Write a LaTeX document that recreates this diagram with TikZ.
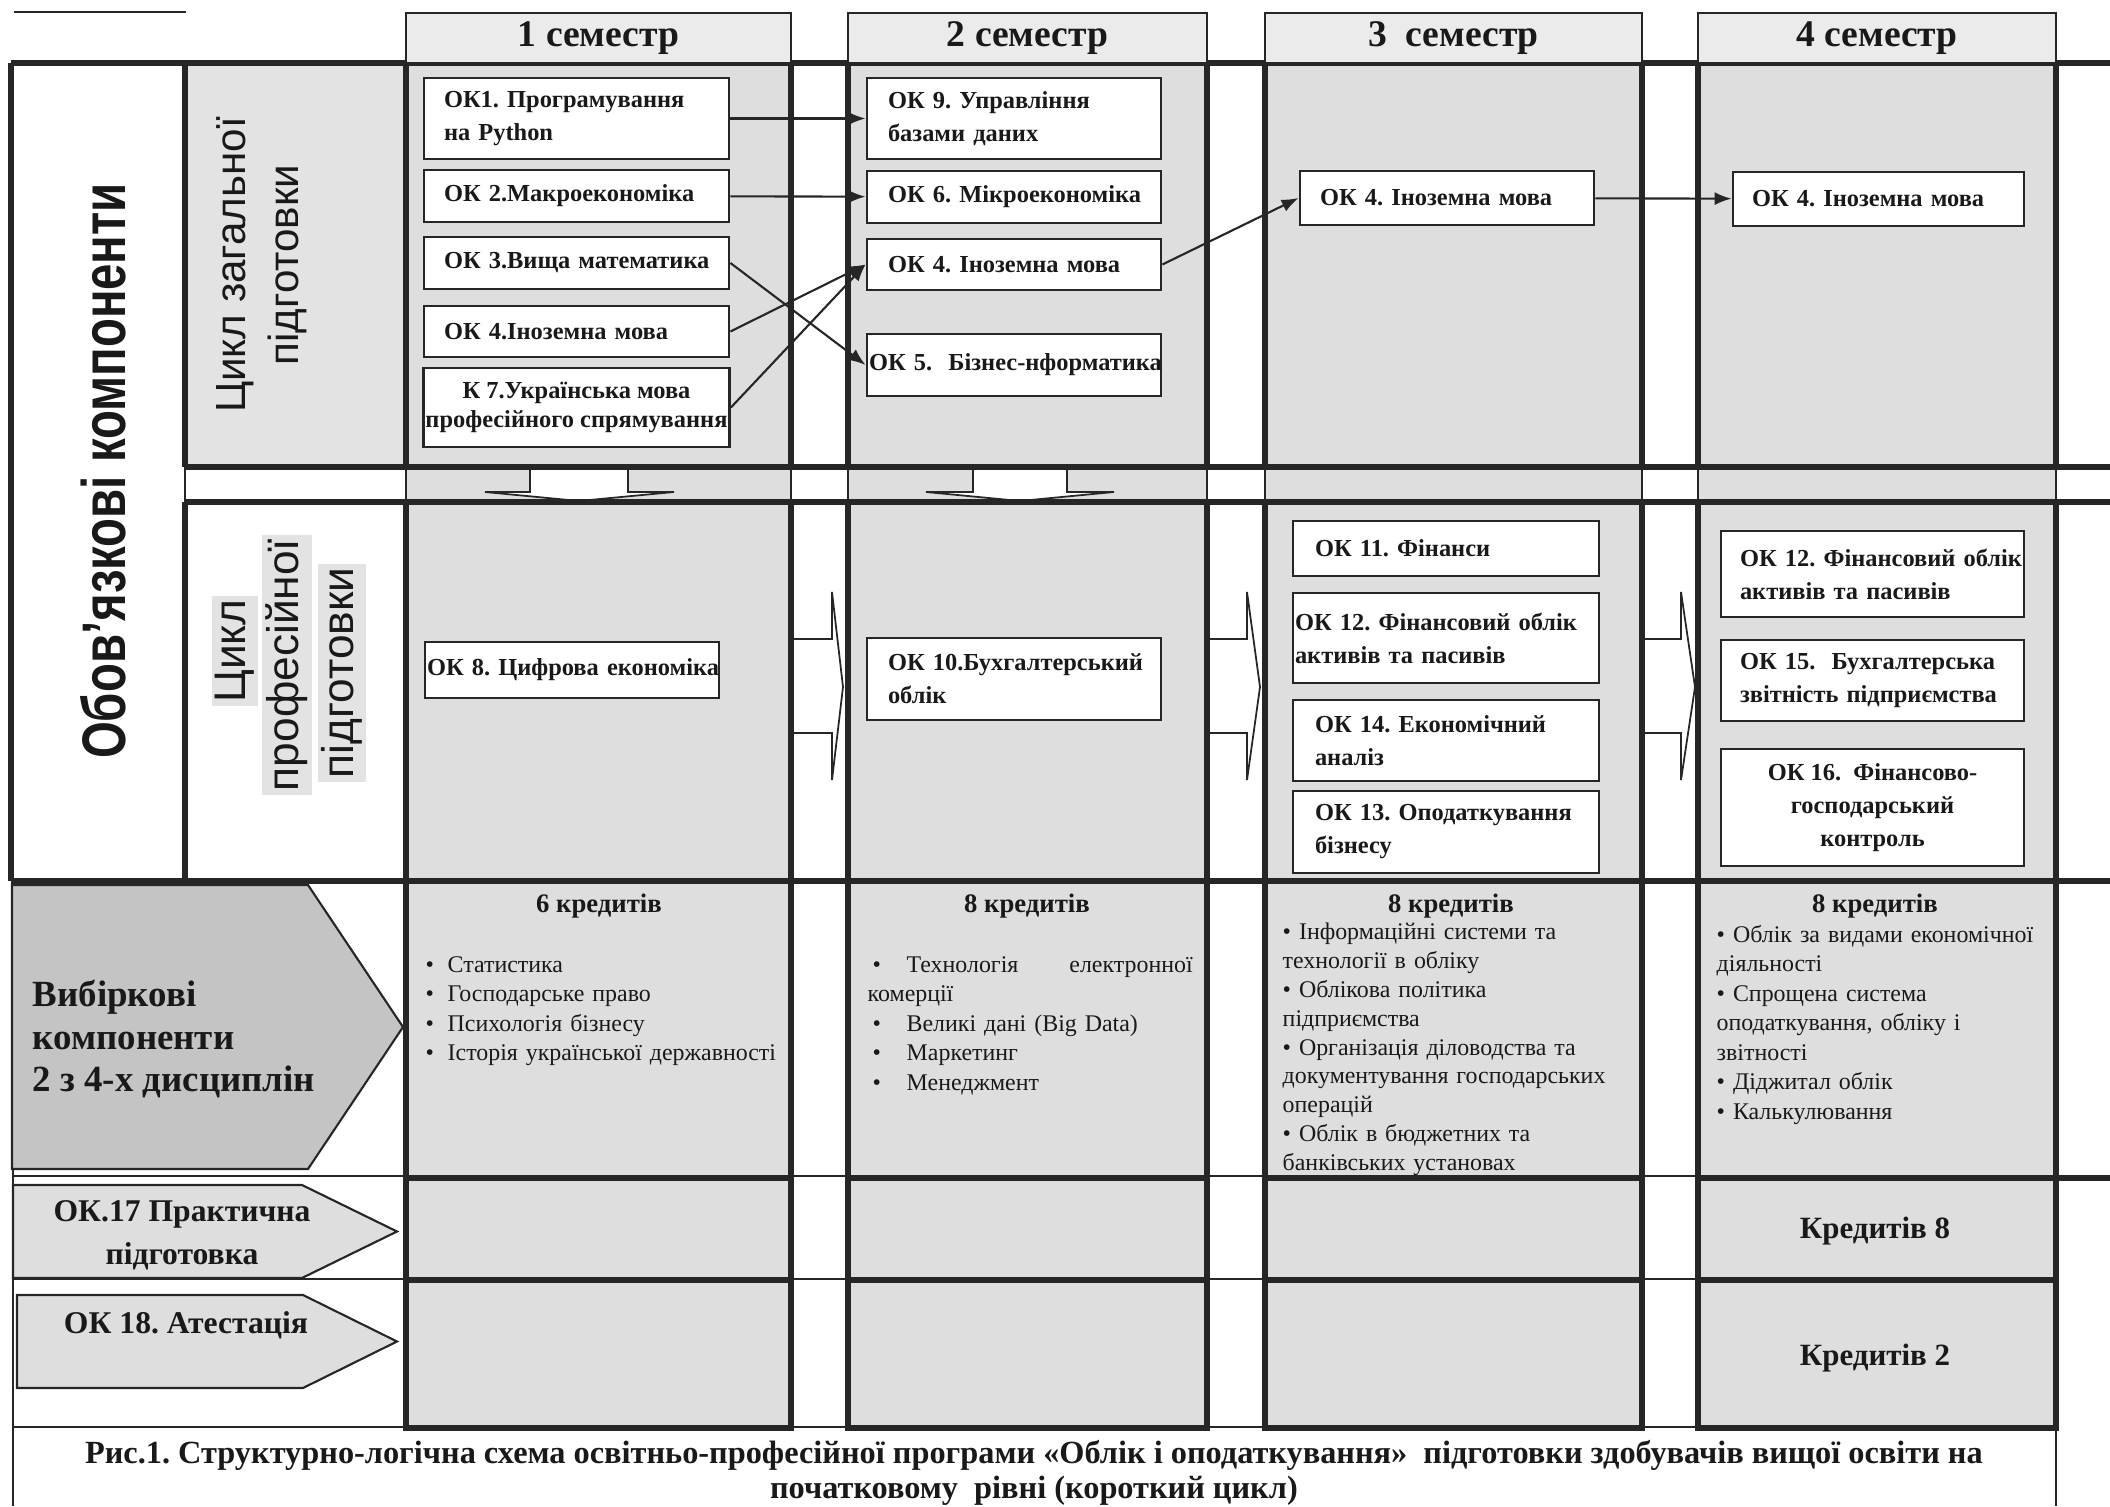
\documentclass[tikz,border=0pt]{standalone}
\usepackage{fontspec}
\usepackage{graphicx}
\setmainfont{Liberation Serif}
\setsansfont{Liberation Sans}
\frenchspacing
\usetikzlibrary{arrows.meta}
\tikzset{>={Latex[length=1.7mm,width=1.3mm]}}

\definecolor{trait}{gray}{0.15}
\definecolor{fondcol}{gray}{0.87}
\definecolor{fondtete}{gray}{0.92}
\definecolor{fondcycle}{gray}{0.89}
\definecolor{fondvib}{gray}{0.77}
\definecolor{fondok}{gray}{0.87}

\tikzset{
  okbox/.style={draw=trait, fill=white, line width=0.8pt, inner xsep=0.02cm, inner ysep=0pt,
    align=left, font=\fontsize{6.95}{9.4}\selectfont\bfseries},
  okpad/.style={execute at begin node={\leftskip=#1}},
  semhead/.style={draw=trait, fill=fondtete, line width=0.5pt, minimum height=0.5cm,
    inner sep=0pt, font=\fontsize{10.7}{12}\selectfont\bfseries},
  conn/.style={->, draw=trait, line width=0.6pt},
  credits/.style={inner sep=0pt, font=\fontsize{7.6}{9}\selectfont\bfseries},
  vlist/.style={anchor=north west, inner sep=0pt, align=left, font=\fontsize{6.8}{8.4}\selectfont},
  cyclelab/.style={rotate=90, align=center, inner sep=1pt, font=\sffamily\fontsize{12}{15}\selectfont},
  pentlab/.style={inner sep=0pt, align=center, font=\fontsize{9}{12.2}\selectfont\bfseries},
  blockarrow/.style={draw=trait, fill=white, line width=0.5pt},
}

\begin{document}
\begin{tikzpicture}[text=black!90]

% Cadre de la figure (origine en bas a gauche)
% Figure frame (origin at the lower left corner)
\useasboundingbox (0,0) rectangle (21.10,15.06);

% Fonds gris des colonnes
% Grey backgrounds of the columns
\fill [fondcol] (4.06,0.78) rectangle (7.91,14.43);
\fill [fondcol] (8.48,0.78) rectangle (12.07,14.43);
\fill [fondcol] (12.65,0.78) rectangle (16.42,14.43);
\fill [fondcol] (16.98,0.78) rectangle (20.56,14.43);
\fill [fondcycle] (1.85,10.39) rectangle (4.06,14.43);

% Traits fins
% Thin lines
\draw [trait, line width=0.6pt] (0.14,14.94) -- (1.86,14.94);
\draw [trait, line width=0.6pt] (0.13,6.25) -- (0.13,0);
\draw [trait, line width=0.6pt] (20.56,0.78) -- (20.56,0);
\draw [trait, line width=0.6pt] (0.13,3.30) -- (21.10,3.30);
\draw [trait, line width=0.6pt] (0.13,2.27) -- (20.56,2.27);
\draw [trait, line width=0.6pt] (0.13,0.79) -- (20.56,0.79);
\draw [trait, line width=0.6pt] (1.85,10.39) -- (1.85,10.04) (4.06,10.39) -- (4.06,10.04) (7.91,10.39) -- (7.91,10.04)
  (8.48,10.39) -- (8.48,10.04) (12.07,10.39) -- (12.07,10.04) (12.65,10.39) -- (12.65,10.04)
  (16.42,10.39) -- (16.42,10.04) (16.98,10.39) -- (16.98,10.04) (20.56,10.39) -- (20.56,10.04);

% Fleches larges entre les cycles et les semestres
% Block arrows between cycles and semesters
\filldraw [blockarrow] (5.30,10.39) -- (5.30,10.14) -- (4.85,10.14) -- (5.79,10.05) -- (6.74,10.14) -- (6.28,10.14) -- (6.28,10.39);
\filldraw [blockarrow] (9.73,10.39) -- (9.73,10.14) -- (9.26,10.14) -- (10.20,10.05) -- (11.14,10.14) -- (10.67,10.14) -- (10.67,10.39);
\filldraw [blockarrow] (7.91,8.67) -- (8.32,8.67) -- (8.32,9.14) -- (8.43,8.19) -- (8.32,7.26) -- (8.32,7.73) -- (7.91,7.73);
\filldraw [blockarrow] (12.07,8.67) -- (12.47,8.67) -- (12.47,9.14) -- (12.60,8.19) -- (12.47,7.26) -- (12.47,7.73) -- (12.07,7.73);
\filldraw [blockarrow] (16.42,8.67) -- (16.81,8.67) -- (16.81,9.14) -- (16.95,8.19) -- (16.81,7.26) -- (16.81,7.73) -- (16.42,7.73);

% Traits epais
% Thick lines
\draw [trait, line width=1.5pt] (0.11,14.43) -- (21.10,14.43);
\draw [trait, line width=1.5pt] (1.85,10.39) -- (21.10,10.39);
\draw [trait, line width=1.5pt] (1.85,10.04) -- (21.10,10.04);
\draw [trait, line width=1.5pt] (0.11,6.25) -- (21.10,6.25);
\draw [trait, line width=1.5pt] (20.56,3.28) -- (21.10,3.28);
\draw [trait, line width=1.5pt] (0.11,14.43) -- (0.11,6.25) (1.85,14.43) -- (1.85,10.39) (1.85,10.04) -- (1.85,6.25);
\draw [trait, line width=1.5pt] (4.06,14.43) rectangle (7.91,10.39) (4.06,10.04) rectangle (7.91,6.25)
  (4.06,6.25) rectangle (7.91,3.28) (4.06,3.28) rectangle (7.91,2.26) (4.06,2.26) rectangle (7.91,0.78);
\draw [trait, line width=1.5pt] (8.48,14.43) rectangle (12.07,10.39) (8.48,10.04) rectangle (12.07,6.25)
  (8.48,6.25) rectangle (12.07,3.28) (8.48,3.28) rectangle (12.07,2.26) (8.48,2.26) rectangle (12.07,0.78);
\draw [trait, line width=1.5pt] (12.65,14.43) rectangle (16.42,10.39) (12.65,10.04) rectangle (16.42,6.25)
  (12.65,6.25) rectangle (16.42,3.28) (12.65,3.28) rectangle (16.42,2.26) (12.65,2.26) rectangle (16.42,0.78);
\draw [trait, line width=1.5pt] (16.98,14.43) rectangle (20.56,10.39) (16.98,10.04) rectangle (20.56,6.25)
  (16.98,6.25) rectangle (20.56,3.28) (16.98,3.28) rectangle (20.56,2.26) (16.98,2.26) rectangle (20.56,0.78);

% Fleches pentagonales a gauche
% Pentagon arrows on the left
\filldraw [draw=trait, line width=0.6pt, fill=fondvib] (0.12,6.21) -- (3.08,6.21) -- (4.03,4.79) -- (3.08,3.37) -- (0.12,3.37) -- cycle;
\filldraw [draw=trait, line width=0.6pt, fill=fondok] (0.13,3.21) -- (3.02,3.21) -- (3.97,2.745) -- (3.02,2.28) -- (0.13,2.28) -- cycle;
\filldraw [draw=trait, line width=0.6pt, fill=fondok] (0.17,2.11) -- (3.03,2.11) -- (3.97,1.645) -- (3.03,1.18) -- (0.17,1.18) -- cycle;

% En-tetes des semestres
% Semester headers
\node [semhead, minimum width=3.85cm] (sem1) at (5.985,14.68) {1 семестр};
\node [semhead, minimum width=3.59cm] (sem2) at (10.275,14.68) {2 семестр};
\node [semhead, minimum width=3.77cm] (sem3) at (14.535,14.68) {3~~семестр};
\node [semhead, minimum width=3.58cm] (sem4) at (18.77,14.68) {4 семестр};

% Etiquettes de gauche
% Left labels
\node [rotate=90, inner sep=0pt, font=\sffamily\bfseries\fontsize{17.5}{20}\selectfont] (oblig) at (1.03,10.35) {\scalebox{0.77}[1]{Обов’язкові компоненти}};
\node [cyclelab] (cyclgen) at (2.62,12.41) {Цикл загальної\\підготовки};
\node [cyclelab, fill=fondcycle, font=\sffamily\fontsize{12.6}{15}\selectfont] (cyclprof1) at (2.35,8.55) {Цикл};
\node [cyclelab, fill=fondcycle, font=\sffamily\fontsize{12.6}{15}\selectfont] (cyclprof2) at (2.87,8.41) {професійної};
\node [cyclelab, fill=fondcycle, font=\sffamily\fontsize{12.6}{15}\selectfont] (cyclprof3) at (3.42,8.33) {підготовки};
\node [anchor=west, inner sep=0pt, align=left, font=\fontsize{10.5}{12.2}\selectfont\bfseries] (vibir) at (0.32,4.67) {Вибіркові\\компоненти\\2 з 4-х дисциплін};
\node [pentlab] (prakt) at (1.82,2.705) {ОК.17 Практична\\підготовка};
\node [pentlab] (atest) at (1.86,1.81) {ОК 18. Атестація};

% Disciplines du cycle general
% General training courses
\node [okbox, okpad=0.18cm, text width=3.01cm, minimum height=0.81cm] (ok1) at (5.765,13.875) {ОК1. Програмування\\на Python};
\node [okbox, okpad=0.18cm, text width=3.01cm, minimum height=0.52cm] (ok2) at (5.765,13.10) {ОК 2.Макроекономіка};
\node [okbox, okpad=0.18cm, text width=3.01cm, minimum height=0.52cm] (ok3) at (5.765,12.43) {ОК 3.Вища математика};
\node [okbox, okpad=0.18cm, text width=3.01cm, minimum height=0.51cm] (ok4a) at (5.765,11.745) {ОК 4.Іноземна мова};
\node [okbox, align=center, minimum width=3.05cm, minimum height=0.79cm, font=\fontsize{6.95}{8.4}\selectfont\bfseries] (k7) at (5.765,10.985) {К 7.Українська мова\\професійного спрямування};
\node [okbox, okpad=0.19cm, text width=2.90cm, minimum height=0.81cm] (ok9) at (10.14,13.875) {ОК 9. Управління\\базами даних};
\node [okbox, okpad=0.19cm, text width=2.90cm, minimum height=0.52cm] (ok6) at (10.14,13.09) {ОК 6. Мікроекономіка};
\node [okbox, okpad=0.19cm, text width=2.90cm, minimum height=0.51cm] (ok4b) at (10.14,12.415) {ОК 4. Іноземна мова};
\node [okbox, text width=2.90cm, minimum height=0.62cm] (ok5) at (10.14,11.41) {\mbox{ОК 5.\ \ Бізнес-нформатика}};
\node [okbox, okpad=0.18cm, text width=2.90cm, minimum height=0.54cm] (ok4c) at (14.47,13.08) {ОК 4. Іноземна мова};
\node [okbox, okpad=0.17cm, text width=2.87cm, minimum height=0.54cm] (ok4d) at (18.785,13.07) {ОК 4. Іноземна мова};

% Disciplines du cycle professionnel
% Professional training courses
\node [okbox, text width=2.90cm, minimum height=0.56cm] (ok8) at (5.72,8.36) {\mbox{ОК 8. Цифрова економіка}};
\node [okbox, okpad=0.19cm, text width=2.90cm, minimum height=0.82cm] (ok10) at (10.14,8.27) {ОК 10.Бухгалтерський\\облік};
\node [okbox, okpad=0.20cm, text width=3.02cm, minimum height=0.55cm] (ok11) at (14.46,9.575) {ОК 11. Фінанси};
\node [okbox, text width=3.02cm, minimum height=0.90cm] (ok12a) at (14.46,8.68) {ОК 12. Фінансовий облік\\активів та пасивів};
\node [okbox, okpad=0.20cm, text width=3.02cm, minimum height=0.81cm] (ok14) at (14.46,7.655) {ОК 14. Економічний\\аналіз};
\node [okbox, okpad=0.20cm, text width=3.02cm, minimum height=0.82cm] (ok13) at (14.46,6.74) {ОК 13. Оподаткування\\бізнесу};
\node [okbox, okpad=0.17cm, text width=2.99cm, minimum height=0.86cm] (ok12b) at (18.725,9.32) {\mbox{ОК 12. Фінансовий облік}\\активів та пасивів};
\node [okbox, okpad=0.17cm, text width=2.99cm, minimum height=0.81cm] (ok15) at (18.725,8.255) {ОК 15.\ \ Бухгалтерська\\звітність підприємства};
\node [okbox, align=center, minimum width=3.03cm, minimum height=1.17cm] (ok16) at (18.725,6.985) {ОК 16.\ \ Фінансово-\\господарський\\контроль};

% Liaisons entre les disciplines
% Links between the courses
\draw [conn] (ok1) -- (ok9);
\draw [conn] (ok2) -- (ok6);
\draw [conn] (ok3.east) -- (ok5.west);
\draw [conn] (ok4a.east) -- (ok4b.west);
\draw [conn] (k7.east) -- (ok4b.west);
\draw [conn] (ok4b.east) -- (ok4c.west);
\draw [conn] (ok4c) -- (ok4d);

% Disciplines au choix
% Elective courses
\node [credits] (kred1) at (5.99,6.00) {6 кредитів};
\node [credits] (kred2) at (10.27,6.00) {8 кредитів};
\node [credits] (kred3) at (14.51,6.00) {8 кредитів};
\node [credits] (kred4) at (18.75,6.00) {8 кредитів};
\node [vlist, text width=3.65cm] (vib1) at (4.25,5.55) {\strut\makebox[0.22cm][l]{\textbullet}Статистика\\
  \makebox[0.22cm][l]{\textbullet}Господарське право\\
  \makebox[0.22cm][l]{\textbullet}Психологія бізнесу\\
  \makebox[0.22cm][l]{\textbullet}\mbox{Історія української державності}};
\node [vlist, text width=3.35cm] (vib2) at (8.67,5.55) {\strut\hspace*{0.05cm}\makebox[0.34cm][l]{\textbullet}\makebox[2.86cm][s]{Технологія\hfill електронної}\\
  комерції\\
  \hspace*{0.05cm}\makebox[0.34cm][l]{\textbullet}Великі дані (Big Data)\\
  \hspace*{0.05cm}\makebox[0.34cm][l]{\textbullet}Маркетинг\\
  \hspace*{0.05cm}\makebox[0.34cm][l]{\textbullet}Менеджмент};
\node [vlist, text width=3.55cm, font=\fontsize{6.8}{8.2}\selectfont] (vib3) at (12.82,5.87) {\strut\textbullet\ Інформаційні системи та\\
  технології в обліку\\
  \textbullet\ Облікова політика\\
  підприємства\\
  \textbullet\ Організація діловодства та\\
  документування господарських\\
  операцій\\
  \textbullet\ Облік в бюджетних та\\
  банківських установах};
\node [vlist, text width=3.35cm] (vib4) at (17.16,5.85) {\strut\textbullet\ Облік за видами економічної\\
  діяльності\\
  \textbullet\ Спрощена система\\
  оподаткування, обліку і\\
  звітності\\
  \textbullet\ Діджитал облік\\
  \textbullet\ Калькулювання};

% Credits de la pratique et de l'attestation
% Credits of practice and attestation
\node [credits, font=\fontsize{8.8}{10}\selectfont\bfseries] (kredprakt) at (18.75,2.75) {Кредитів 8};
\node [credits, font=\fontsize{8.8}{10}\selectfont\bfseries] (kredatest) at (18.75,1.48) {Кредитів 2};

% Legende
% Caption
\node [align=center, inner sep=0pt, font=\fontsize{9.2}{10}\selectfont\bfseries] (legende) at (10.34,0.335) {Рис.1. Структурно-логічна схема освітньо-професійної програми «Облік і оподаткування»\ \ підготовки здобувачів вищої освіти на\\початковому\ \ рівні (короткий цикл)};

\end{tikzpicture}
\end{document}
